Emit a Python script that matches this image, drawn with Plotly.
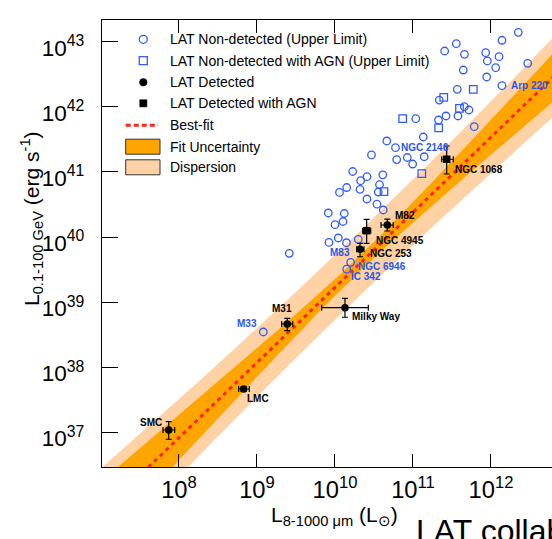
import numpy as np
import plotly.graph_objects as go

# ---------------- data (log10 values) ----------------
# LAT non-detected galaxies (upper limits): log10 L_IR [Lsun], log10 L_gamma [erg/s]
ul_lir = [12.350, 12.141, 11.555, 11.406, 11.660, 11.932, 12.103, 11.953, 12.471, 12.060,
          11.645, 11.945, 11.568, 11.337, 11.658, 11.718, 11.036, 11.423, 11.577, 11.327,
          11.785, 11.132, 10.664, 10.468, 10.791, 10.927, 11.144, 10.996, 10.227, 10.410,
          10.613, 10.329, 10.150, 10.321, 10.571, 10.555, 10.058, 10.410, 10.538, 10.619,
          9.914, 10.119, 10.103, 10.000, 9.923, 10.042, 10.147, 9.414]
ul_lg = [43.144, 43.022, 42.969, 42.857, 42.806, 42.831, 42.770, 42.704, 42.668, 42.601,
         42.565, 42.458, 42.269, 42.104, 42.002, 41.951, 41.817, 41.859, 41.859, 41.797,
         41.694, 41.536, 41.475, 41.260, 41.190, 41.221, 41.233, 41.121, 41.006, 40.926,
         40.955, 40.865, 40.760, 40.733, 40.803, 40.691, 40.684, 40.584, 40.504, 40.415,
         40.369, 40.361, 40.238, 40.189, 39.916, 39.985, 39.912, 39.750]
# labelled upper limits
uln_names = ["Arp 220", "NGC 2146", "M83", "NGC 6946", "IC 342", "M33"]
uln_lir = [12.141, 10.776, 10.299, 10.201, 10.150, 9.081]
uln_lg = [42.324, 41.372, 39.965, 39.611, 39.505, 38.541]

# LAT non-detected with AGN (upper limits)
ulagn_lir = [11.773, 11.394, 11.596, 10.868, 11.329, 11.113, 10.628]
ulagn_lg = [42.269, 42.146, 41.977, 41.817, 41.677, 40.975, 40.696]

# LAT detected
det_names = ["SMC", "LMC", "M31", "Milky Way", "NGC 253", "M82"]
det_lir = [7.868, 8.829, 9.388, 10.128, 10.321, 10.671]
det_lir_lo = [7.795, 8.765, 9.317, 9.829, 10.278, 10.590]
det_lir_hi = [7.945, 8.901, 9.458, 10.427, 10.372, 10.747]
det_lg = [37.035, 37.665, 38.664, 38.914, 39.811, 40.184]
det_lg_lo = [36.893, 37.630, 38.561, 38.767, 39.697, 40.092]
det_lg_hi = [37.164, 37.700, 38.751, 39.058, 39.903, 40.276]

# LAT detected with AGN
agn_names = ["NGC 4945", "NGC 1068"]
agn_lir = [10.406, 11.432]
agn_lir_lo = [10.355, 11.368]
agn_lir_hi = [10.458, 11.517]
agn_lg = [40.097, 41.194]
agn_lg_lo = [39.903, 40.968]
agn_lg_hi = [40.272, 41.398]

# best fit: log Lg = slope*(log L_IR - 10) + norm
fit_slope = 1.154
fit_norm = 39.225
fit_pivot = 10.3
fit_sig_norm = 0.12
fit_sig_slope = 0.14
disp_sigma = 0.48

# ---------------- style / layout constants ----------------
W, H = 552, 539
ML, MR, MT, MB = 102, 0, 20, 72
PW, PH = W - ML - MR, H - MT - MB
XR = [7.013, 7.013 + PW / 78.0]
YR = [40 - (MT + PH - 237) / 65.1, 40 + (237 - MT) / 65.1]
BLUE = "#2f5bff"
BLUE_TXT = "#2a55ee"
ORANGE = "#ffa500"
PEACH = "#fed2a4"
RED = "#ff2418"
FONT = "Liberation Sans, Arial, sans-serif"


def px_x(px):
    return (px - ML) / PW


def px_y(py):
    return (MT + PH - py) / PH


# ---------------- bands ----------------
lx = np.linspace(6.5, 13.8, 300)
fit = fit_norm + fit_slope * (lx - 10)
fit_hw = np.sqrt(fit_sig_norm ** 2 + (fit_sig_slope * (lx - fit_pivot)) ** 2)
tot_hw = np.sqrt(disp_sigma ** 2 + fit_hw ** 2)

fig = go.Figure()


def band(lo, hi, color):
    xs = np.concatenate([lx, lx[::-1]])
    ys = np.concatenate([hi, lo[::-1]])
    return go.Scatter(x=10 ** xs, y=10 ** ys, fill="toself", fillcolor=color,
                      line=dict(width=0), mode="lines", hoverinfo="skip", showlegend=False)


fig.add_trace(band(fit - tot_hw, fit + tot_hw, PEACH))
fig.add_trace(band(fit - fit_hw, fit + fit_hw, ORANGE))
fig.add_trace(go.Scatter(x=10 ** lx, y=10 ** fit, mode="lines",
                         line=dict(color=RED, width=3, dash="4px,4px"), showlegend=False))

# upper limits
fig.add_trace(go.Scatter(x=10 ** np.array(ul_lir + uln_lir), y=10 ** np.array(ul_lg + uln_lg),
                         mode="markers", showlegend=False,
                         marker=dict(symbol="circle-open", size=7.5, color=BLUE, line=dict(width=1.3))))
fig.add_trace(go.Scatter(x=10 ** np.array(ulagn_lir), y=10 ** np.array(ulagn_lg),
                         mode="markers", showlegend=False,
                         marker=dict(symbol="square-open", size=7.5, color=BLUE, line=dict(width=1.3))))


def det_trace(lxv, lxlo, lxhi, lyv, lylo, lyhi, symbol):
    x = 10 ** np.array(lxv)
    y = 10 ** np.array(lyv)
    return go.Scatter(
        x=x, y=y, mode="markers", showlegend=False,
        marker=dict(symbol=symbol, size=7.5, color="black"),
        error_x=dict(type="data", symmetric=False, array=10 ** np.array(lxhi) - x,
                     arrayminus=x - 10 ** np.array(lxlo), color="black", thickness=1.2, width=3),
        error_y=dict(type="data", symmetric=False, array=10 ** np.array(lyhi) - y,
                     arrayminus=y - 10 ** np.array(lylo), color="black", thickness=1.2, width=3),
    )


fig.add_trace(det_trace(det_lir, det_lir_lo, det_lir_hi, det_lg, det_lg_lo, det_lg_hi, "circle"))
fig.add_trace(det_trace(agn_lir, agn_lir_lo, agn_lir_hi, agn_lg, agn_lg_lo, agn_lg_hi, "square"))

# ---------------- labels (pixel offsets from the points) ----------------
label_offsets = {
    "Arp 220": ("left", 7, 0), "NGC 2146": ("left", 3.5, 0), "M83": ("right", -6.5, -13),
    "NGC 6946": ("left", 5, -4), "IC 342": ("left", 2.5, -7.5), "M33": ("right", -4, 8),
    "SMC": ("right", -5, 8), "LMC": ("left", 1.5, -9.5), "M31": ("center", -5, 15),
    "Milky Way": ("left", 5, -8.5), "NGC 253": ("left", 8, -4), "M82": ("left", 6, 10),
    "NGC 4945": ("left", 7, -10), "NGC 1068": ("left", 6.5, -10),
}
annotations = []


def add_labels(names, xs, ys, color):
    for n, xv, yv in zip(names, xs, ys):
        anc, dx, dy = label_offsets[n]
        annotations.append(dict(x=xv, y=yv, xref="x", yref="y", text="<b>%s</b>" % n,
                                showarrow=False, xanchor=anc, yanchor="middle",
                                xshift=dx, yshift=dy,
                                font=dict(family=FONT, size=10, color=color)))


add_labels(uln_names, uln_lir, uln_lg, BLUE_TXT)
add_labels(det_names, det_lir, det_lg, "black")
add_labels(agn_names, agn_lir, agn_lg, "black")

# ---------------- custom legend ----------------
legend_rows = [39.3, 60.7, 82.3, 103.3, 125.3, 146.7, 167.3]
legend_text = ["LAT Non-detected (Upper Limit)", "LAT Non-detected with AGN (Upper Limit)",
               "LAT Detected", "LAT Detected with AGN", "Best-fit", "Fit Uncertainty", "Dispersion"]
shapes = []
sym_x = 143.3
for i, t in enumerate(legend_text):
    annotations.append(dict(x=px_x(168.3), y=px_y(legend_rows[i]), xref="paper", yref="paper",
                            text=t, showarrow=False, xanchor="left", yanchor="middle",
                            font=dict(family=FONT, size=14, color="black")))


def pix_shape(kind, cx, cy, r, line, fill):
    return dict(type=kind, xref="paper", yref="paper", xsizemode="pixel", ysizemode="pixel",
                xanchor=px_x(cx), yanchor=px_y(cy), x0=-r, x1=r, y0=-r, y1=r,
                line=line, fillcolor=fill, layer="above")


shapes.append(pix_shape("circle", sym_x, legend_rows[0], 4, dict(color=BLUE, width=1.3), "rgba(0,0,0,0)"))
shapes.append(pix_shape("rect", sym_x, legend_rows[1], 4, dict(color=BLUE, width=1.3), "rgba(0,0,0,0)"))
shapes.append(pix_shape("circle", sym_x, legend_rows[2], 3.8, dict(color="black", width=0.5), "black"))
shapes.append(pix_shape("rect", sym_x, legend_rows[3], 3.6, dict(color="black", width=0.5), "black"))
shapes.append(dict(type="line", xref="paper", yref="paper", x0=px_x(125.7), x1=px_x(158),
                   y0=px_y(legend_rows[4]), y1=px_y(legend_rows[4]),
                   line=dict(color=RED, width=3, dash="5px,3px")))
for row, col in ((5, ORANGE), (6, PEACH)):
    shapes.append(dict(type="rect", xref="paper", yref="paper", x0=px_x(125.7), x1=px_x(160),
                       y0=px_y(legend_rows[row] - 7.5), y1=px_y(legend_rows[row] + 7.5),
                       fillcolor=col, line=dict(color="#333333", width=1)))

# red outline of the dispersion band along the bottom frame
lower = fit - tot_hw
x_cross = lx[np.argmax(lower >= YR[0])]
shapes.append(dict(type="line", xref="x", yref="y", x0=x_cross, x1=XR[1] + 1, y0=YR[0], y1=YR[0],
                   line=dict(color="#cc2010", width=2), layer="above"))

# minor ticks (2..9 within each decade), drawn inside the frame
TICK_COL = "#333333"
for d in range(6, 14):
    for k in range(2, 10):
        v = d + np.log10(k)
        if XR[0] < v < XR[1]:
            for yanc, a, b in ((0, 0, 8), (1, -8, 0)):
                shapes.append(dict(type="line", xref="x", yref="paper", ysizemode="pixel",
                                   yanchor=yanc, x0=v, x1=v, y0=a, y1=b,
                                   line=dict(color=TICK_COL, width=1), layer="above"))
        if YR[0] < v < YR[1]:
            shapes.append(dict(type="line", xref="paper", yref="y", xsizemode="pixel",
                               xanchor=0, x0=0, x1=10, y0=v, y1=v,
                               line=dict(color=TICK_COL, width=1), layer="above"))

# axis titles and tag
annotations.append(dict(x=px_x(334), y=px_y(516), xref="paper", yref="paper",
                        text="L<sub>8-1000 μm</sub> (L<sub>⊙</sub>)", showarrow=False,
                        xanchor="center", yanchor="middle", font=dict(family=FONT, size=21, color="black")))
annotations.append(dict(x=px_x(32), y=px_y(219), xref="paper", yref="paper", textangle=-90,
                        text="L<sub>0.1-100 GeV</sub> (erg s<sup>-1</sup>)", showarrow=False,
                        xanchor="center", yanchor="middle", font=dict(family=FONT, size=21, color="black")))
annotations.append(dict(x=px_x(414), y=px_y(511), xref="paper", yref="paper",
                        text="LAT collaboration", showarrow=False,
                        xanchor="left", yanchor="top", font=dict(family=FONT, size=32, color="black")))

axis_common = dict(type="log", showline=True, linecolor="black", linewidth=1, ticks="inside",
                   tickcolor="black", tickwidth=1, dtick=1, exponentformat="power",
                   showgrid=False, zeroline=False)
fig.update_layout(
    width=W, height=H, margin=dict(l=ML, r=MR, t=MT, b=MB),
    paper_bgcolor="white", plot_bgcolor="white", showlegend=False,
    xaxis=dict(axis_common, range=XR, mirror="ticks", ticklen=13, ticklabelstandoff=2,
               tickfont=dict(family=FONT, size=19, color="black")),
    yaxis=dict(axis_common, range=YR, mirror=False, ticklen=16, ticklabelstandoff=13,
               ticklabelshift=6, tickfont=dict(family=FONT, size=18, color="black")),
    shapes=shapes, annotations=annotations,
)
fig.write_html("out.html")
